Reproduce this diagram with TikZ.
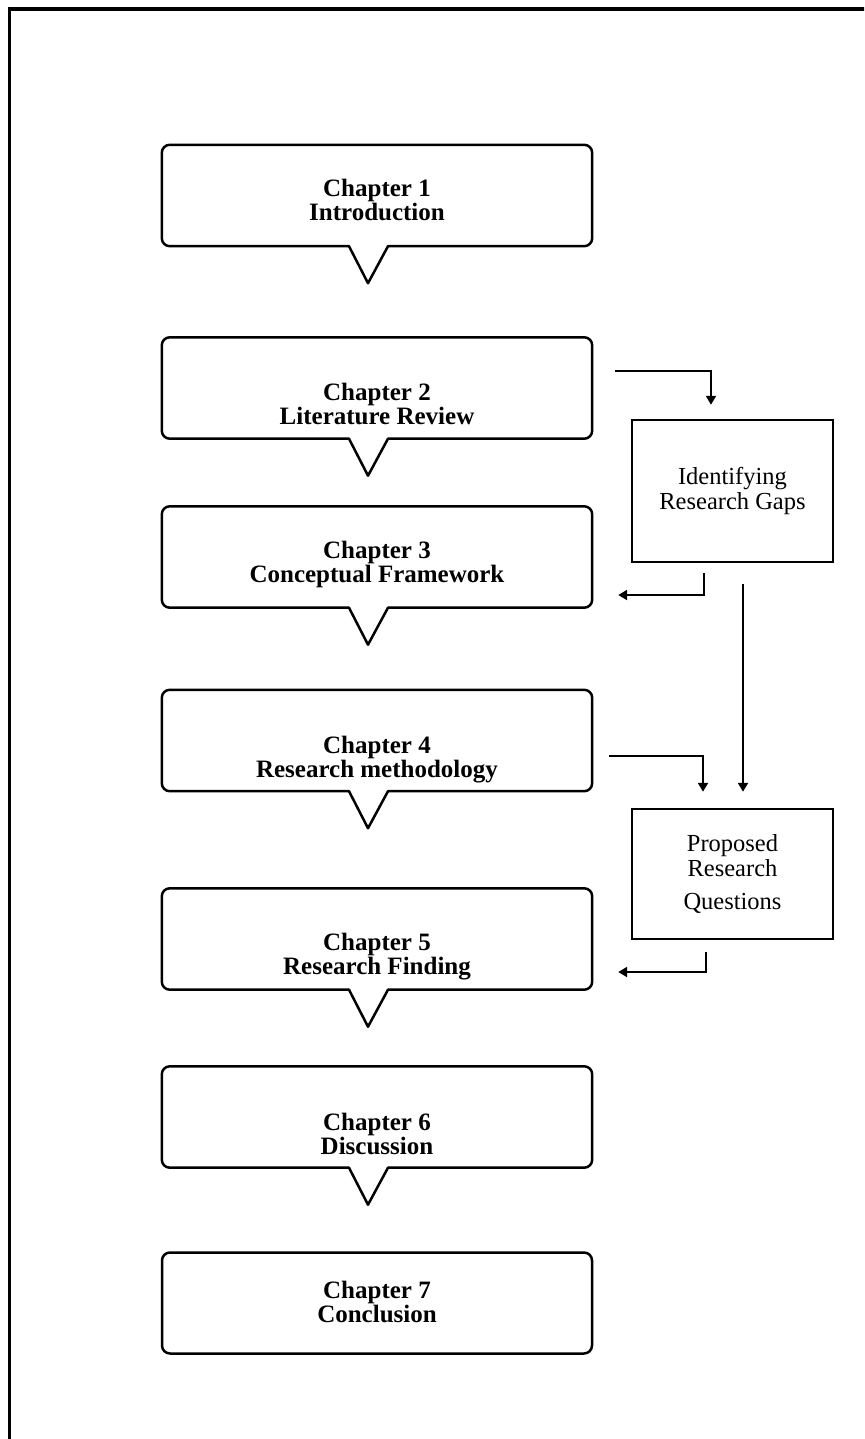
\documentclass[tikz,border=0pt]{standalone}
\usepackage{fontspec}
\setmainfont{Liberation Serif}
\usetikzlibrary{arrows.meta}

% Outline of a speech-bubble chapter box: rounded frame with a pointer below
\newcommand\drawcallout[1]{%
  \draw[outline, rounded corners=8pt] ([xshift=-28pt]#1.south) -- (#1.south west)
    -- (#1.north west) -- (#1.north east) -- (#1.south east) -- ([xshift=11pt]#1.south);
  \draw[outline] ([xshift=-28pt]#1.south) -- ([xshift=-9pt,yshift=-37pt]#1.south)
    -- ([xshift=11pt]#1.south);}

\begin{document}
\begin{tikzpicture}[x=1pt,y=-1pt,
  chapbox/.style={minimum width=430pt, minimum height=101pt, inner sep=0pt},
  chaptext/.style={font=\bfseries\fontsize{25}{24}\selectfont, align=center, inner sep=0pt},
  outline/.style={line width=2.5pt, line cap=round, line join=round},
  sidebox/.style={draw, line width=2.5pt, minimum width=201pt, inner sep=0pt,
    font=\fontsize{24.5}{25.3}\selectfont, align=center},
  conn/.style={line width=2.2pt, -{Triangle[length=9pt,width=10pt]}}
]
\useasboundingbox (0,0) rectangle (864,1439);
\fill[white] (0,0) rectangle (864,1439);

% page frame (runs off the right and bottom edges)
\begin{scope}
  \clip (0,0) rectangle (864,1439);
  \draw[line width=3.8pt, line join=miter] (880,9) -- (9.5,9) -- (9.5,1460);
\end{scope}

% chapter boxes
\node[chapbox] (c1) at (377,195.5) {};
\node[chapbox] (c2) at (377,388) {};
\node[chapbox] (c3) at (377,557) {};
\node[chapbox] (c4) at (377,740.5) {};
\node[chapbox] (c5) at (377,939) {};
\node[chapbox] (c6) at (377,1117) {};
\node[chapbox, draw, line width=2.5pt, rounded corners=8pt] (c7) at (377,1303) {};

\drawcallout{c1}
\drawcallout{c2}
\drawcallout{c3}
\drawcallout{c4}
\drawcallout{c5}
\drawcallout{c6}

\node[chaptext] (t1) at (377,200.4) {Chapter 1\\Introduction};
\node[chaptext] (t2) at (377,404) {Chapter 2\\Literature Review};
\node[chaptext] (t3) at (377,564.4) {Chapter 3\\Conceptual Framework};
\node[chaptext] (t4) at (377,759.5) {Chapter 4\\Research methodology};
\node[chaptext] (t5) at (377,956.5) {Chapter 5\\Research Finding};
\node[chaptext] (t6) at (377,1134.4) {Chapter 6\\Discussion};
\node[chaptext] (t7) at (377,1302) {Chapter 7\\Conclusion};

% side boxes
\node[sidebox, minimum height=142pt] (gaps) at (732.5,491) {Identifying\\Research Gaps};
\node[sidebox, minimum height=130pt] (rq) at (732.5,874) {Proposed\\Research\\[8pt]Questions};

% connector end points
\coordinate (a1s) at ([xshift=23pt,yshift=17pt]c2.east);
\coordinate (a1e) at ([xshift=-21.5pt,yshift=14pt]gaps.north);
\coordinate (a2s) at ([xshift=-28.5pt,yshift=-10pt]gaps.south);
\coordinate (a2e) at ([xshift=26pt,yshift=-38pt]c3.east);
\coordinate (a3s) at ([xshift=10.5pt,yshift=-21pt]gaps.south);
\coordinate (a3e) at ([xshift=10.5pt,yshift=16pt]rq.north);
\coordinate (a4s) at ([xshift=17pt,yshift=-15.5pt]c4.east);
\coordinate (a4e) at ([xshift=-29.5pt,yshift=16pt]rq.north);
\coordinate (a5s) at ([xshift=-26.5pt,yshift=-12pt]rq.south);
\coordinate (a5e) at ([xshift=26pt,yshift=-33pt]c5.east);

% connectors
\draw[conn] (a1s) -| (a1e);
\draw[conn] (a2s) |- (a2e);
\draw[conn] (a3s) -- (a3e);
\draw[conn] (a4s) -| (a4e);
\draw[conn] (a5s) |- (a5e);
\end{tikzpicture}
\end{document}
